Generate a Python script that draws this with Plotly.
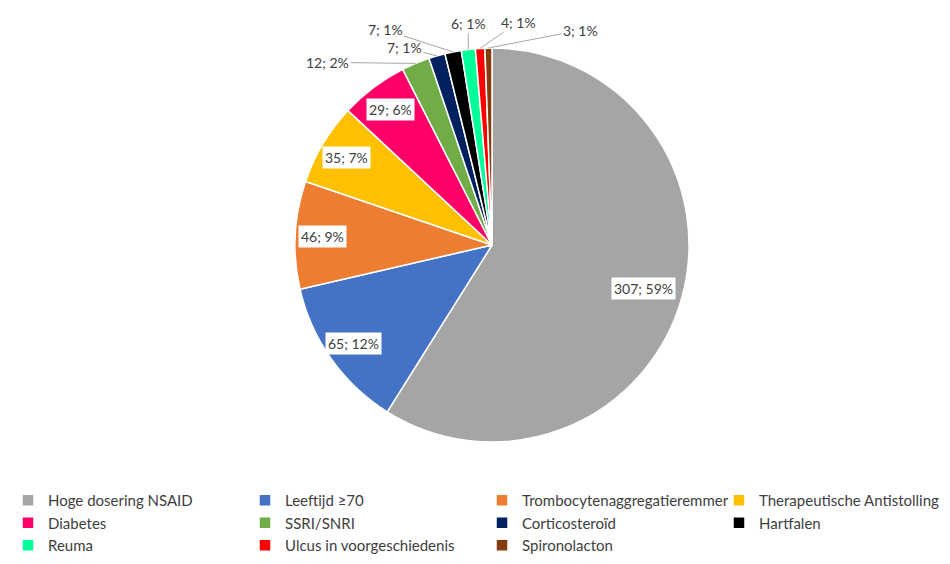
import math
import plotly.graph_objects as go

# data
categories = [
    "Hoge dosering NSAID", "Leeftijd ≥70", "Trombocytenaggregatieremmer",
    "Therapeutische Antistolling", "Diabetes", "SSRI/SNRI", "Corticosteroïd",
    "Hartfalen", "Reuma", "Ulcus in voorgeschiedenis", "Spironolacton",
]
counts = [307, 65, 46, 35, 29, 12, 7, 7, 6, 4, 3]
colors = ["#A5A5A5", "#4472C4", "#ED7D31", "#FFC000", "#FF0066", "#70AD47",
          "#002060", "#000000", "#00FF99", "#FF0000", "#843C0C"]

W, H = 950, 564
CX, CY, R = 484, 237, 197  # pie centre / radius in pixels

# offsets (px) of outside labels relative to the slice edge; None = inside label
label_offsets = [None, None, None, None, None,
                 (-88, -1), (-32, -8), (-68, -22), (0, -26), (38, -26), (92, -18)]

total = sum(counts)

fig = go.Figure(go.Pie(
    labels=categories,
    values=counts,
    sort=False,
    direction="clockwise",
    rotation=0,
    marker=dict(colors=colors, line=dict(color="white", width=1.5)),
    textinfo="none",
    hoverinfo="label+value+percent",
    domain=dict(x=[(CX - R) / W, (CX + R) / W],
                y=[1 - (CY + R) / H, 1 - (CY - R) / H]),
))

# data labels "value; pct%" placed from the slice angles
cum = 0
for val, off in zip(counts, label_offsets):
    mid = (cum + val / 2) / total * 2 * math.pi
    cum += val
    text = f"{val}; {round(val / total * 100)}%"
    if off is None:
        rr = R * (0.8 if val == counts[0] else 0.86)
        px = CX + rr * math.sin(mid)
        py = CY - rr * math.cos(mid)
        fig.add_annotation(x=px / W, y=1 - py / H, xref="paper", yref="paper",
                           xanchor="center", yanchor="middle",
                           text=text, showarrow=False, bgcolor="white",
                           borderpad=2, font=dict(size=14, color="#404040"))
    else:
        px = CX + R * math.sin(mid)
        py = CY - R * math.cos(mid)
        fig.add_annotation(x=px / W, y=1 - py / H, xref="paper", yref="paper",
                           text=text, showarrow=True, arrowhead=0,
                           arrowwidth=1, arrowcolor="#A6A6A6",
                           ax=off[0], ay=off[1], standoff=0,
                           font=dict(size=14, color="#404040"))

fig.update_layout(
    width=W, height=H,
    margin=dict(l=0, r=0, t=0, b=0, autoexpand=False),
    paper_bgcolor="white",
    font=dict(family="Lato, Open Sans, sans-serif", size=15, color="#404040"),
    showlegend=True,
    legend=dict(
        orientation="h",
        x=0, y=1 - 476 / H, xanchor="left", yanchor="top",
        entrywidth=192, entrywidthmode="pixels",
        font=dict(size=15, color="#404040"),
        itemclick=False,
    ),
)

fig.write_html("out.html")
